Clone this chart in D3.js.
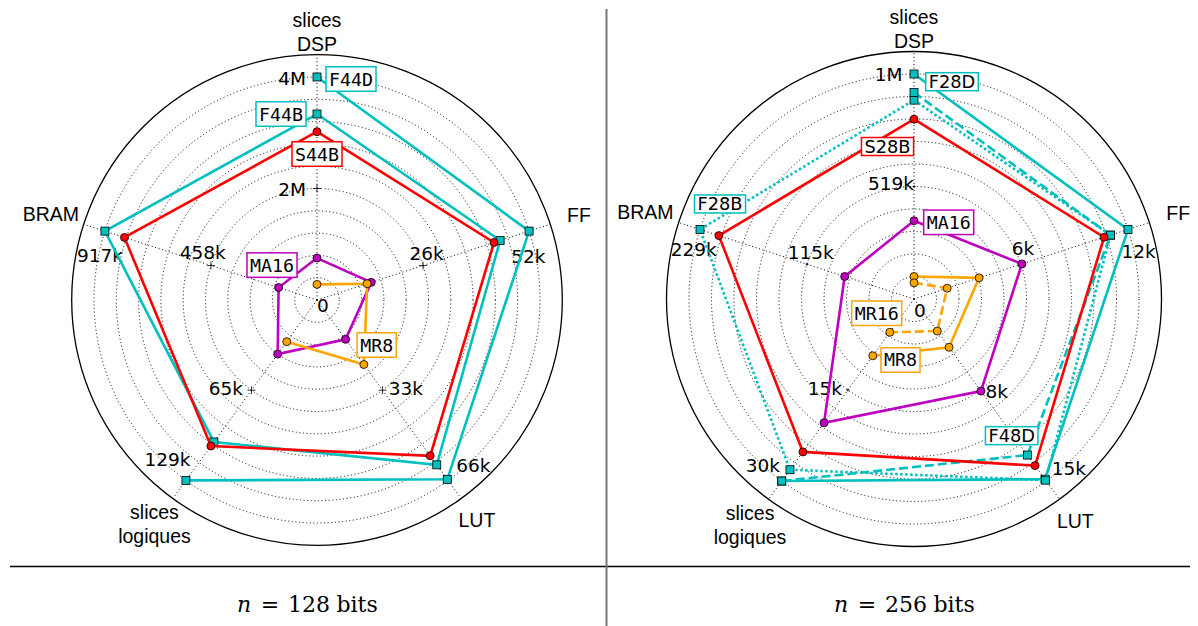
<!DOCTYPE html>
<html>
<head>
<meta charset="utf-8">
<script src="https://cdn.jsdelivr.net/npm/d3@7"></script>
<style>
  body { margin: 0; background: #fff; }
  svg { display: block; }
</style>
</head>
<body>
<svg id="chart" width="1198" height="626"></svg>
<script>
// axes, clockwise from the top
const axes = [['slices', 'DSP'], ['FF'], ['LUT'], ['slices', 'logiques'], ['BRAM']];

// n = 128 bits
const max128 = [4000000, 52000, 66000, 129000, 917000];
const ticks128 = [['2M', '4M'], ['26k', '52k'], ['33k', '66k'], ['65k', '129k'], ['458k', '917k']];
const f44d = [4000000, 52000, 65600, 129000, null];
const f44b = [3336000, 44900, 60300, 101500, 917000];
const s44b = [3020000, 43400, 57000, 104400, 832600];
const ma16a = [752000, 13300, 14400, 38700, 166000];
const mr8a = [280000, 12300, 23600, 29800, null];

// n = 256 bits
const max256 = [1038000, 12000, 15000, 30000, 229000];
const ticks256 = [['519k', '1M'], ['6k', '12k'], ['8k', '15k'], ['15k', '30k'], ['115k', '229k']];
const f28d = [1038000, 12000, 14850, 30000, null];
const f28b = [917600, 11020, 14930, 28140, 229000];
const f48d = [952900, 11020, 12860, 30000, null];
const s28b = [829400, 10660, 13730, 25200, 208800];
const ma16b = [361200, 6050, 7590, 20400, 74200];
const mr8b = [103800, 3650, 3980, 9360, null];
const mr16b = [74700, 1860, 2640, 5490, null];

const CYAN = '#00bfbf', RED = '#ff0000', MAGENTA = '#bf00bf', ORANGE = '#ffa500';
const DOT = '2.5,2.5', DASH = '9,4';

const svg = d3.select('#chart');

const charts = [
  {
    cx: 317, cy: 300, full: 223, max: max128, ticks: ticks128, plus: 4, zero: [6, 5],
    tickOff: [[[-25, 0.5], [-25, 1]], [[3.5, -12.5], [-0.7, 25.7]], [[23.4, -2], [25.3, -15.4]],
              [[-25.6, -2], [-18.4, -21]], [[-8.3, -12.8], [-4.9, 24.9]]],
    series: [
      { name: 'F44D', values: f44d, color: CYAN, marker: 'square', label: [0, 34, 2], mono: true },
      { name: 'F44B', values: f44b, color: CYAN, marker: 'square', label: [0, -36, 0], mono: true },
      { name: 'S44B', values: s44b, color: RED, marker: 'circle', label: [0, 0, 22.4], mono: true },
      { name: 'MA16', values: ma16a, color: MAGENTA, marker: 'circle', label: [0, -45, 7], mono: true },
      { name: 'MR8', values: mr8a, color: ORANGE, marker: 'circle', label: [2, 12.8, -19.5], mono: true }
    ],
    caption: '128'
  },
  {
    cx: 914, cy: 299, full: 225, max: max256, ticks: ticks256, plus: 1.5, zero: [6, 11],
    tickOff: [[[-23, -3.2], [-25.5, 0]], [[2, -16], [10.7, 22.2]], [[16.6, 1.7], [22.7, -12.7]],
              [[-22.9, -1.7], [-18.9, -15.3]], [[3.8, -11.5], [-6.3, 20.5]]],
    series: [
      { name: 'F28D', values: f28d, color: CYAN, marker: 'square', label: [0, 38, 7.7] },
      { name: 'F28B', values: f28b, color: CYAN, marker: 'square', dash: DOT, label: [4, 20, -25.5] },
      { name: 'F48D', values: f48d, color: CYAN, marker: 'square', dash: DASH, label: [2, -15.7, -19.4] },
      { name: 'S28B', values: s28b, color: RED, marker: 'circle', label: [0, -26.5, 27.3] },
      { name: 'MA16', values: ma16b, color: MAGENTA, marker: 'circle', label: [0, 34.7, 1.6], mono: true },
      { name: 'MR8', values: mr8b, color: ORANGE, marker: 'circle', label: [3, 27.8, 4.2], mono: true },
      { name: 'MR16', values: mr16b, color: ORANGE, marker: 'circle', dash: DASH, label: [3, -13.1, -19.1], mono: true }
    ],
    caption: '256'
  }
];

const labelRadius = [1.2, 1.235, 1.22, 1.24, 1.255];
const angle = i => i * 2 * Math.PI / axes.length;

function drawRadar(c) {
  const g = svg.append('g');
  const scales = c.max.map(m => d3.scaleLinear().domain([0, m]).range([0, c.full]));
  const px = (i, r) => c.cx + r * Math.sin(angle(i));
  const py = (i, r) => c.cy - r * Math.cos(angle(i));

  // grid rings every tenth of the scale, frame at 1.1
  const rings = d3.range(1, 11).map(k => k / 10);
  g.selectAll('circle.ring').data(rings).enter().append('circle')
    .attr('cx', c.cx).attr('cy', c.cy).attr('r', d => d * c.full)
    .attr('fill', 'none').attr('stroke', '#000').attr('stroke-width', 1)
    .attr('stroke-dasharray', '1,2.6');
  g.selectAll('line.spoke').data(axes).enter().append('line')
    .attr('x1', c.cx).attr('y1', c.cy)
    .attr('x2', (d, i) => px(i, 1.1 * c.full)).attr('y2', (d, i) => py(i, 1.1 * c.full))
    .attr('stroke', '#000').attr('stroke-width', 1).attr('stroke-dasharray', '1,2.6');
  g.append('circle').attr('cx', c.cx).attr('cy', c.cy).attr('r', 1.1 * c.full)
    .attr('fill', 'none').attr('stroke', '#000').attr('stroke-width', 1.3);

  // axis names
  axes.forEach((lines, i) => {
    const r = labelRadius[i] * c.full;
    const t = g.append('text')
      .attr('font-family', 'Liberation Sans, Arial, sans-serif').attr('font-size', 19.5)
      .attr('text-anchor', 'middle');
    const y0 = py(i, r) - (lines.length - 1) * 12;
    lines.forEach((s, k) => {
      t.append('tspan').attr('x', px(i, r)).attr('y', y0 + k * 24)
        .attr('dominant-baseline', 'central').text(s);
    });
  });

  // radial tick marks and labels at half and full scale
  c.ticks.forEach((labs, i) => {
    labs.forEach((lab, k) => {
      const v = c.max[i] * (k + 1) / 2;
      const x = px(i, scales[i](v)), y = py(i, scales[i](v));
      g.append('path')
        .attr('d', `M${x - c.plus},${y}H${x + c.plus}M${x},${y - c.plus}V${y + c.plus}`)
        .attr('stroke', '#000').attr('stroke-width', 0.8);
      const o = c.tickOff[i][k];
      g.append('text').attr('x', x + o[0]).attr('y', y + o[1])
        .attr('text-anchor', 'middle').attr('dominant-baseline', 'central')
        .attr('font-family', 'DejaVu Sans, sans-serif').attr('font-size', 18.5)
        .text(lab);
    });
  });
  g.append('text').attr('x', c.cx + c.zero[0]).attr('y', c.cy + c.zero[1])
    .attr('text-anchor', 'middle').attr('dominant-baseline', 'central')
    .attr('font-family', 'DejaVu Sans, sans-serif').attr('font-size', 18.5).text('0');

  // series
  const line = d3.line()
    .defined(d => d.v != null)
    .x(d => px(d.i, scales[d.i](d.v)))
    .y(d => py(d.i, scales[d.i](d.v)));

  c.series.forEach(s => {
    const pts = s.values.map((v, i) => ({ v, i }));
    g.append('path').datum(pts.concat([pts[0]]))
      .attr('d', line).attr('fill', 'none')
      .attr('stroke', s.color).attr('stroke-width', 2.6)
      .attr('stroke-dasharray', s.dash || null);
    const m = pts.filter(d => d.v != null);
    if (s.marker === 'circle') {
      g.selectAll(null).data(m).enter().append('circle')
        .attr('cx', d => px(d.i, scales[d.i](d.v))).attr('cy', d => py(d.i, scales[d.i](d.v)))
        .attr('r', 4).attr('fill', s.color).attr('stroke', '#000').attr('stroke-width', 0.8);
    } else {
      g.selectAll(null).data(m).enter().append('rect')
        .attr('x', d => px(d.i, scales[d.i](d.v)) - 4).attr('y', d => py(d.i, scales[d.i](d.v)) - 4)
        .attr('width', 8).attr('height', 8)
        .attr('fill', s.color).attr('stroke', '#000').attr('stroke-width', 0.8);
    }
  });

  // boxed series names
  c.series.forEach(s => {
    const [ai, dx, dy] = s.label;
    const x = px(ai, scales[ai](s.values[ai])) + dx;
    const y = py(ai, scales[ai](s.values[ai])) + dy;
    const lg = g.append('g');
    const rect = lg.append('rect');
    const t = lg.append('text').attr('x', x).attr('y', y)
      .attr('text-anchor', 'middle').attr('dominant-baseline', 'central')
      .attr('font-family', s.mono ? 'DejaVu Sans Mono, monospace' : 'DejaVu Sans, sans-serif')
      .attr('font-size', s.mono ? 18.3 : 17.8).text(s.name);
    const w = t.node().getComputedTextLength() + 6;
    const h = s.mono ? 24.5 : 18;
    rect.attr('x', x - w / 2).attr('y', y - h / 2).attr('width', w).attr('height', h)
      .attr('fill', '#fff').attr('stroke', s.color).attr('stroke-width', 1.5);
  });

  // caption under the panel
  const cap = svg.append('g').attr('font-family', 'DejaVu Serif, serif')
    .attr('font-size', 22);
  const bx = c.cx - 10;
  cap.append('text').attr('x', bx - 70).attr('y', 612).attr('font-style', 'italic').text('n');
  cap.append('text').attr('x', bx - 37).attr('y', 612).attr('text-anchor', 'middle').text('=');
  cap.append('text').attr('x', bx - 19).attr('y', 612).text(c.caption);
  cap.append('text').attr('x', bx + 29.5).attr('y', 612).text('bits');
}

charts.forEach(drawRadar);

// panel separators
svg.append('line').attr('x1', 10).attr('x2', 1190).attr('y1', 566.5).attr('y2', 566.5)
  .attr('stroke', '#000').attr('stroke-width', 1.3);
svg.append('line').attr('x1', 606.5).attr('x2', 606.5).attr('y1', 9).attr('y2', 626)
  .attr('stroke', '#777').attr('stroke-width', 2);
</script>
</body>
</html>
